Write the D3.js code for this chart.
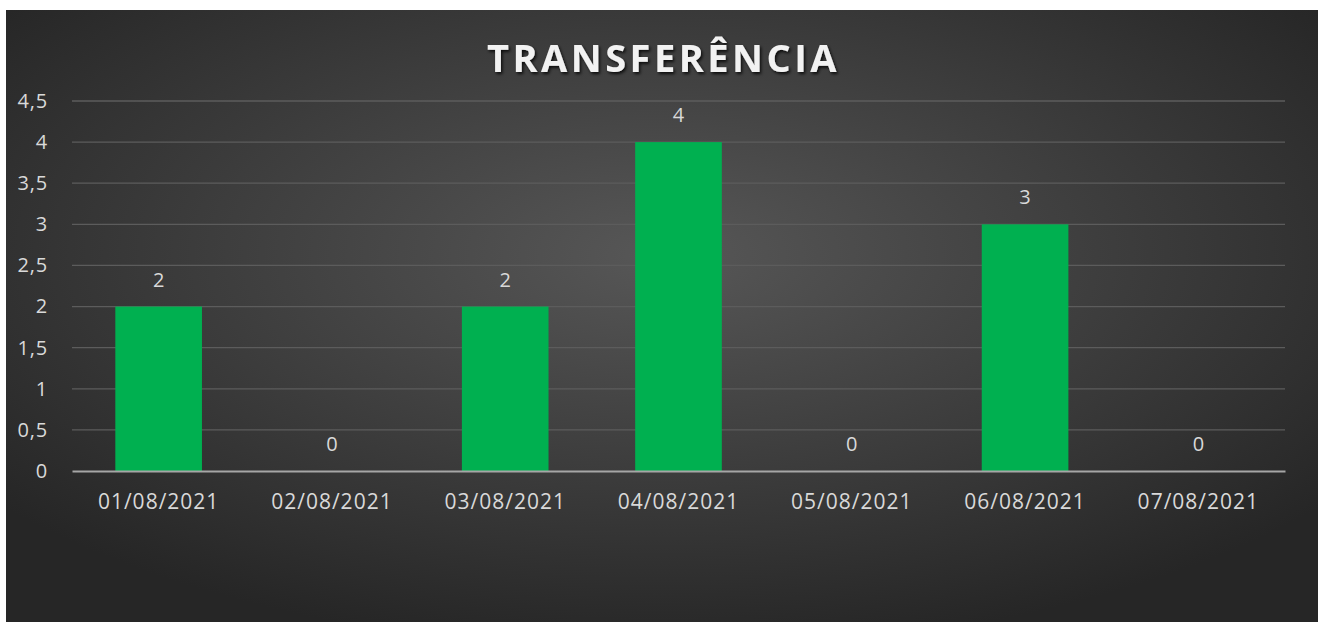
<!DOCTYPE html>
<meta charset="utf-8">
<script src="https://d3js.org/d3.v7.min.js"></script>
<style>
  body { margin: 0; background: #fff; }
</style>
<div id="my_dataviz"></div>
<script>

// data
var dates = ["01/08/2021", "02/08/2021", "03/08/2021", "04/08/2021", "05/08/2021", "06/08/2021", "07/08/2021"];
var values = [2, 0, 2, 4, 0, 3, 0];
var yTicks = [0, 0.5, 1, 1.5, 2, 2.5, 3, 3.5, 4, 4.5];
var title = "TRANSFERÊNCIA";

var W = 1325, H = 628;
var chart = {x: 6, y: 10, w: 1312, h: 612};
var margin = {top: 101, left: 72};

var width = 1285 - margin.left,
    height = 471 - margin.top;

var svg = d3.select("#my_dataviz")
  .append("svg")
    .attr("width", W)
    .attr("height", H);

// background gradient
var defs = svg.append("defs");
var grad = defs.append("radialGradient")
    .attr("id", "bg")
    .attr("cx", "50%").attr("cy", "40%").attr("r", "65%");
grad.append("stop").attr("offset", "0%").attr("stop-color", "#575757");
grad.append("stop").attr("offset", "100%").attr("stop-color", "#262626");

var shadow = defs.append("filter").attr("id", "tshadow")
    .attr("x", "-10%").attr("y", "-30%").attr("width", "120%").attr("height", "160%");
shadow.append("feDropShadow")
    .attr("dx", 1.5).attr("dy", 2).attr("stdDeviation", 1.5)
    .attr("flood-color", "#000").attr("flood-opacity", 0.8);

svg.append("rect")
    .attr("x", chart.x).attr("y", chart.y)
    .attr("width", chart.w).attr("height", chart.h)
    .attr("fill", "url(#bg)");

var g = svg.append("g")
    .attr("transform", "translate(" + margin.left + "," + margin.top + ")");

var x = d3.scaleBand()
    .domain(dates)
    .range([0, width])
    .paddingInner(0.5)
    .paddingOuter(0.25);

var y = d3.scaleLinear()
    .domain([0, 4.5])
    .range([height, 0]);

var fmt = function(d) { return String(d).replace(".", ","); };
var labelFont = "'Open Sans', sans-serif";

// gridlines
g.append("g")
  .selectAll("line")
  .data(yTicks.filter(function(d) { return d > 0; }))
  .enter().append("line")
    .attr("x1", 0).attr("x2", width)
    .attr("y1", function(d) { return y(d); })
    .attr("y2", function(d) { return y(d); })
    .attr("stroke", "#5c5c5c")
    .attr("stroke-width", 1.3);

// y axis
var yAxis = g.append("g")
    .call(d3.axisLeft(y).tickValues(yTicks).tickFormat(fmt).tickSize(0).tickPadding(24));
yAxis.select(".domain").remove();
yAxis.selectAll("text")
    .attr("fill", "#d9d9d9")
    .style("font-family", labelFont)
    .style("font-size", "20px")
    .style("letter-spacing", "0.8px");

// bars
g.selectAll(".bar")
  .data(values)
  .enter().append("rect")
    .attr("class", "bar")
    .attr("x", function(d, i) { return x(dates[i]); })
    .attr("y", function(d) { return y(d); })
    .attr("width", x.bandwidth())
    .attr("height", function(d) { return height - y(d); })
    .attr("fill", "#00b050");

// x axis
var xAxis = g.append("g")
    .attr("transform", "translate(0," + height + ")")
    .call(d3.axisBottom(x).tickSize(0).tickPadding(23));
xAxis.select(".domain")
    .attr("stroke", "#a6a6a6")
    .attr("stroke-width", 2);
xAxis.selectAll("text")
    .attr("fill", "#d9d9d9")
    .style("font-family", labelFont)
    .style("font-size", "21px")
    .style("letter-spacing", "1px");

// data labels
g.selectAll(".lbl")
  .data(values)
  .enter().append("text")
    .attr("class", "lbl")
    .attr("x", function(d, i) { return x(dates[i]) + x.bandwidth() / 2; })
    .attr("y", function(d) { return y(d) - 20; })
    .attr("text-anchor", "middle")
    .attr("fill", "#d9d9d9")
    .style("font-family", labelFont)
    .style("font-size", "20px")
    .text(function(d) { return d; });

// title
svg.append("text")
    .attr("x", margin.left + width / 2 - 15)
    .attr("y", 72)
    .attr("text-anchor", "middle")
    .attr("fill", "#f2f2f2")
    .attr("filter", "url(#tshadow)")
    .style("font-family", "'Open Sans', sans-serif")
    .style("font-weight", "bold")
    .style("font-size", "38px")
    .style("letter-spacing", "3.5px")
    .text(title);

</script>
